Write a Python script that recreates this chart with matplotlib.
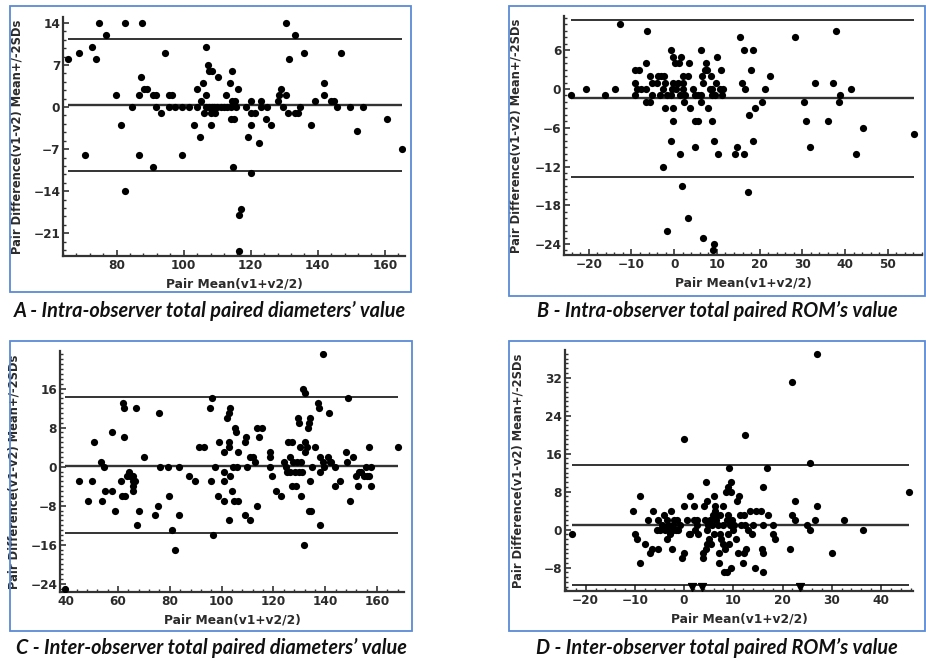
import matplotlib
matplotlib.use("Agg")
import matplotlib.pyplot as plt
from matplotlib.patches import Rectangle
from matplotlib.ticker import AutoMinorLocator, MultipleLocator
import numpy as np

# Panel A - intra-observer diameters
a_x = [65.6, 68.9, 72.7, 73.8, 74.7, 76.8, 70.6, 79.7, 81.2, 82.6, 82.6, 84.6, 86.6, 86.6,
       87.2, 87.5, 88.2, 89.0, 90.8, 90.8, 91.6, 91.6, 93.1, 94.3, 95.6, 96.6, 95.6, 97.3,
       99.6, 99.6, 101.6, 103.1, 103.9, 104.1, 104.9, 105.2, 105.7, 106.0, 106.7, 106.6,
       107.2, 107.6, 108.2, 108.4, 108.0, 109.2, 110.2, 106.5, 107.5, 108.5, 109.0, 110.0,
       111.0, 112.0, 113.0, 114.0, 115.5, 112.7, 113.7, 114.2, 114.5, 114.5, 114.6, 114.9,
       115.2, 116.2, 116.4, 117.0, 116.4, 118.7, 119.2, 120.0, 120.0, 120.0, 120.0, 121.2,
       122.6, 123.0, 123.0, 124.5, 124.8, 126.1, 128.0, 128.5, 129.1, 129.6, 130.6, 130.6,
       131.1, 131.5, 133.3, 133.1, 134.1, 134.6, 136.0, 138.0, 139.1, 141.7, 141.7, 143.9,
       144.9, 145.6, 146.9, 149.6, 151.6, 153.4, 160.5, 165.1]
a_y = [8, 9, 10, 8, 14, 12, -8, 2, -3, 14, -14, 0, 2, -8,
       5, 14, 3, 3, 2, -10, 2, 0, -1, 9, 2, 2, 0, 0,
       0, -8, 0, -3, 3, 0, -5, 1, 4, -1, 2, 10,
       7, 6, -3, 6, -1, -1, 5, 0, 0, 0, 0, 0,
       0, 0, 0, 0, 0, 2, 4, -2, 6, 1, -10, -2,
       1, 3, -18, -17, -24, 0, -5, 1, -1, -3, -11, -1,
       -6, 1, 0, -2, 0, -3, 1, 2, 3, 0, 14, 2,
       -1, 8, 12, -1, -1, 0, 9, -3, 1, 4, 2, 1,
       1, 0, 9, 0, -4, 0, -2, -7]
a_levels = [11.4, 0.4, -10.6]

# Panel B - intra-observer ROM
b_x = [-24.1, -20.7, -16.1, -13.8, -12.7, -9.2, -8.3, -9.2, -9.2, -8.8, -7.7, -6.6, -6.6,
       -6.6, -6.3, -5.7, -5.6, -5.3, -5.1, -4.1, -3.8, -3.1, -3.4, -2.7, -2.6, -2.4, -2.2,
       -2.2, -1.8, -1.7, -0.8, -0.8, -0.8, -0.6, -0.4, -0.2, -0.2, -0.2, 0.2, 0.4, 0.9, 1.2,
       1.3, 1.4, 1.7, 1.9, 1.95, 2.1, 2.1, 2.3, 2.5, 3.4, 3.3, 3.3, 3.7, 4.5, 4.8, 4.8, 4.8,
       5.6, 5.6, 6.2, 6.4, 6.3, 6.2, 6.8, 6.8, 7.2, 7.4, 7.6, 7.8, 8.5, 8.4, 8.8, 8.8, 8.8,
       9.0, 9.3, 9.3, 9.5, 9.8, 9.9, 10.3, 10.6, 10.9, 11.1, 11.5, 14.2, 14.8, 15.4, 15.8,
       16.3, 16.4, 16.6, 17.2, 17.4, 17.9, 18.4, 18.4, 18.8, 20.5, 21.3, 22.4, 28.3, 30.3,
       30.9, 31.8, 33.0, 36.0, 37.1, 37.8, 38.5, 38.9, 41.4, 42.5, 44.3, 56.1]
b_y = [-1, 0, -1, 0, 10, 3, 3, 1, -1, 0, 0, 4, 0,
       -2, 9, 2, -2, -1, 1, 1, 2, 2, -1, 0, -12, 2, 1,
       -3, -1, -22, 6, -1, -8, 0, 5, 1, -3, -5, 4, 0, 1, 4,
       -1, -10, 5, -15, 1, 2, 0, -2, -1, 4, 2, -20, -3, 0, -9, -5, -1,
       -5, -1, -2, 2, 6, -1, 1, -23, 3, 4, 3, -3, 2, 0, 0, -5, -1,
       -25, -8, -24, -1, 1, 5, -10, 0, 3, -1, 0, -10, -9, 8, 1,
       6, -10, 0, -16, -4, 3, 6, -8, -3, -2, 0, 2, 8, -2,
       -5, -9, 1, -5, 1, 9, -2, -1, 0, -10, -6, -7]
b_levels = [10.7, -1.45, -13.6]

# Panel C - inter-observer diameters
c_x = [39.6, 44.8, 48.6, 50.0, 50.9, 53.5, 53.9, 54.5, 54.8, 57.8, 57.8, 59.0, 61.0, 61.5,
       61.9, 62.3, 62.3, 62.5, 63.6, 64.1, 64.5, 65.7, 65.7, 65.7, 65.7, 66.4, 67.0, 67.3,
       68.1, 70.2, 74.1, 75.4, 75.8, 76.3, 79.4, 79.5, 80.8, 82.1, 83.4, 83.4, 87.4, 89.9,
       91.2, 93.2, 95.6, 96.0, 96.4, 96.6, 97.5, 98.6, 98.9, 100.9, 101.1, 101.1, 101.1,
       102.2, 102.7, 102.8, 103.0, 103.0, 103.3, 103.4, 104.1, 104.4, 104.7, 105.3, 105.6,
       105.9, 106.2, 106.2, 108.9, 109.2, 109.5, 109.8, 111.0, 110.8, 112.1, 112.7, 113.6,
       113.7, 114.4, 115.7, 118.5, 118.8, 118.8, 119.5, 121.1, 122.8, 123.9, 124.7, 125.2,
       125.8, 126.2, 126.5, 127.1, 127.3, 127.5, 128.2, 128.8, 129.1, 129.4, 129.7, 129.8,
       130.1, 130.5, 130.7, 131.1, 131.6, 132.0, 131.8, 132.0, 132.3, 132.9, 133.3, 133.7,
       134.2, 134.0, 133.6, 134.6, 134.9, 135.9, 137.2, 137.6, 137.8, 138.1, 137.8, 139.1,
       139.3, 139.7, 141.0, 141.4, 141.9, 142.3, 143.6, 143.6, 145.5, 148.1, 148.3, 148.7,
       149.4, 150.9, 151.7, 152.6, 153.0, 153.9, 154.8, 155.6, 156.1, 156.9, 156.9, 157.8,
       157.8, 168.1]
c_y = [-25, -3, -7, -3, 5, 1, -7, 0, -5, 7, -5, -9, -3, -6,
       13, 12, 6, -6, -2, -1, -2, -2, -3, -4, -5, -3, 12, -12,
       -9, 2, -10, -8, 11, 0, 0, -6, -13, -17, 0, -10, -2, -3,
       4, 4, 12, -3, 14, -14, 0, -6, 5, 3, -1, -3, -7,
       10, 11, -11, 5, 4, 12, -2, -5, 0, -7, 8, 7,
       0, 3, -7, -10, 5, 6, 0, -11, 2, 2, 1, -8,
       8, 6, 8, 2, 3, 0, -2, -5, -6, 1, 0, -1,
       5, -1, 2, 5, -4, 1, -1, -4, 1, 10, 9, -1,
       4, 1, -6, -1, 16, 15, -16, 5, 3, 4, 8, 9,
       10, -3, -9, -9, 0, 4, 13, 12, 2, -1, -12, 23,
       1, 0, 2, 11, 1, 1, 0, -4, -3, 3, 1, 14,
       -7, 2, -2, -4, -1, -1, -2, 0, -2, 4, -2, 0,
       -4, 4]
c_levels = [14.3, 0.2, -13.7]

# Panel D - inter-observer ROM
d_x = [-22.8, -10.4, -9.9, -9.5, -8.9, -8.9, -7.9, -7.4, -6.9, -6.4, -6.6, -5.4, -5.4, -5.6,
       -4.9, -4.5, -4.1, -3.9, -3.5, -3.4, -3.2, -3.0, -2.8, -2.6, -2.5, -2.3, -2.2, -2.0,
       -1.6, -1.5, -1.2, -0.8, -0.5, -0.1, -0.1, 0.0, 0.5, 0.9, 1.1, 1.2, 2.1, 2.1, 2.2, 2.6,
       2.7, 2.9, 3.9, 3.9, 4.1, 4.3, 4.4, 4.5, 4.6, 4.6, 4.7, 4.9, 5.1, 5.3, 5.4, 5.6, 5.8,
       6.0, 6.0, 6.2, 6.3, 6.3, 6.5, 6.8, 7.0, 7.0, 7.2, 7.3, 7.4, 7.8, 8.0, 8.0, 8.1, 8.3,
       8.5, 8.7, 8.8, 8.9, 9.0, 9.0, 9.1, 9.2, 9.3, 9.5, 9.5, 9.5, 9.7, 9.9, 10.2, 10.5,
       10.7, 10.9, 11.2, 11.4, 11.6, 12.0, 12.1, 12.2, 12.4, 12.4, 12.6, 12.9, 13.4, 13.7,
       13.9, 14.4, 14.6, 15.6, 15.8, 16.0, 16.0, 16.1, 16.1, 16.9, 17.1, 18.0, 18.1, 18.5,
       21.5, 22.0, 22.0, 22.5, 22.5, 24.9, 25.6, 25.6, 26.6, 26.9, 26.9, 30.0, 32.5, 36.4,
       45.6]
d_y = [-1, 4, -1, -2, 7, -7, -3, 2, -5, 4, -4, 2, -4, 0,
       0, 1, 3, 0, -2, 2, 1, 0, -1, 4, -4, 1, 0, 2,
       0, 2, 0, 1, -6, -5, 5, 19, 2, -1, 7, -1, 5, 2, 0, 1,
       2, -1, -6, -5, 5, 2, -4, 10, 6, -3, 0, 1, -2, 2, -3, 1, 3,
       7, -1, 5, 3, 4, 2, 1, -7, -5, 3, -1, -2, 1, 5, -3, -9, -4,
       8, 2, -9, 3, -1, 9, 13, -3, 1, 8, 10, -8, 2, 0, 1, -2,
       6, -5, 7, 3, 1, -7, -5, 3, 20, 1, -4, 0, 4, -1,
       1, -8, 4, 4, -4, 9, 1, -5, -9, 13, 3, 1, -1, -2,
       -4, 31, 3, 6, 2, 1, 0, 14, 2, 5, 37, -5, 2, 0,
       8]
# points below the plotted range, drawn as arrows at the bottom
d_off_x = [1.7, 3.7, 23.6]
d_levels = [13.6, 1.0, -11.6]

W, H = 926, 661
TEXT = "#2b2b2b"


def px_rect(l, t, r, b):
    return [l / W, 1 - b / H, (r - l) / W, (b - t) / H]


def draw_panel(rect, x, y, levels, xlim, ylim, xmaj, ymaj, ymin_sub):
    ax = fig.add_axes(px_rect(*rect))
    x = np.asarray(x)
    ax.scatter(x, y, s=27, color="black", zorder=3, linewidths=0)
    for i, lv in enumerate(levels):
        ax.hlines(lv, x.min(), x.max(), color="#111" if i != 1 else "#333",
                  lw=1.2 if i != 1 else 1.7, zorder=2)
    ax.set_xlim(*xlim)
    ax.set_ylim(*ylim)
    ax.xaxis.set_major_locator(MultipleLocator(xmaj))
    ax.yaxis.set_major_locator(MultipleLocator(ymaj))
    ax.xaxis.set_minor_locator(AutoMinorLocator(5))
    ax.yaxis.set_minor_locator(AutoMinorLocator(ymin_sub))
    for s in ["top", "right"]:
        ax.spines[s].set_visible(False)
    for s in ["left", "bottom"]:
        ax.spines[s].set_linewidth(1.6)
        ax.spines[s].set_color("#333")
    ax.tick_params(which="major", direction="in", length=4, width=1.2, color="#333",
                   labelsize=8.7, labelcolor=TEXT, pad=2)
    ax.tick_params(which="minor", direction="in", length=2.5, width=1, color="#333")
    for lab in ax.get_xticklabels() + ax.get_yticklabels():
        lab.set_fontweight("bold")
    ax.set_xlabel("Pair Mean(v1+v2/2)", fontsize=8.8, fontweight="bold", color=TEXT)
    ax.set_ylabel("Pair Difference(v1-v2) Mean+/-2SDs", fontsize=8.3, fontweight="bold",
                  color=TEXT)
    ax.yaxis.set_label_coords(-0.115, 0.5)
    ax.xaxis.set_label_coords(0.5, -0.09)
    return ax


fig = plt.figure(figsize=(9.26, 6.61), dpi=100)

# blue frames around panels
for l, t, r, b in [(10, 6, 411, 292), (509, 6, 925, 296), (10, 341, 412, 631), (509, 341, 925, 631)]:
    fig.patches.append(Rectangle((l / W, 1 - b / H), (r - l) / W, (b - t) / H,
                                 transform=fig.transFigure, fill=False,
                                 edgecolor="#5b8bd6", lw=1.3))

draw_panel((63, 17, 405, 256), a_x, a_y, a_levels, (64, 166), (-24.8, 15), 20, 7, 5)
draw_panel((564, 16, 922, 255), b_x, b_y, b_levels, (-25.8, 58), (-25.7, 11.3), 10, 6, 6)
draw_panel((60, 351, 404, 592), c_x, c_y, c_levels, (37.6, 170.4), (-25.7, 23.7), 20, 8, 8)
ax_d = draw_panel((565, 350, 913, 591), d_x, d_y, d_levels, (-24.2, 46.5), (-12.9, 37.8), 10, 8, 8)
ax_d.scatter(d_off_x, [-12.0] * len(d_off_x), marker="v", s=32, color="black", zorder=3)

captions = [
    (210, 311, "A - Intra-observer total paired diameters\u2019 value"),
    (717, 311, "B - Intra-observer total paired ROM\u2019s value"),
    (211, 648, "C - Inter-observer total paired diameters\u2019 value"),
    (717, 648, "D - Inter-observer total paired ROM\u2019s value"),
]
for cx, cy, txt in captions:
    fig.text(cx / W, 1 - cy / H, txt, ha="center", va="center", fontsize=14.3,
             fontweight="bold", fontstyle="italic", family="Lato", color="#111")

fig.savefig("out.png", dpi=100)
